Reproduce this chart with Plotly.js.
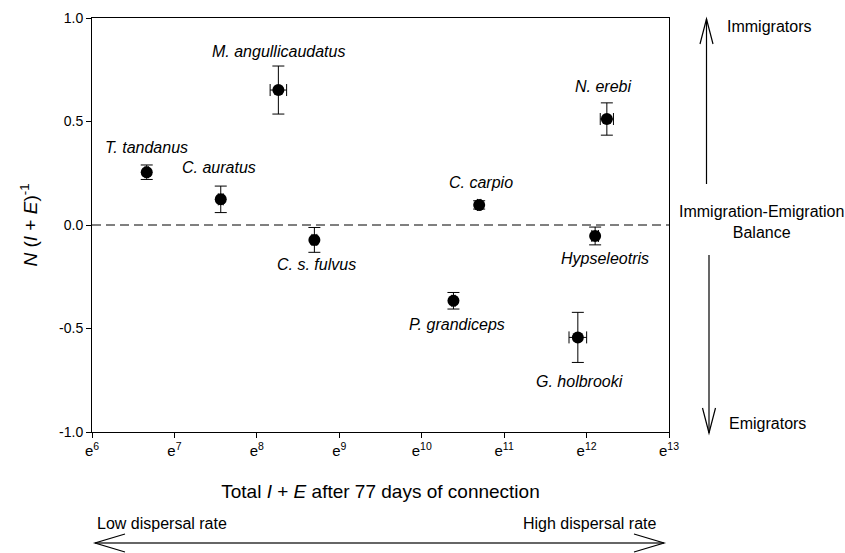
<!DOCTYPE html>
<html>
<head>
<meta charset="utf-8">
<script src="https://cdn.plot.ly/plotly-3.0.1.min.js"></script>
<style>html,body{margin:0;padding:0;background:#fff;}#chart{width:845px;height:553px;}</style>
</head>
<body>
<div id="chart"></div>
<script>
// Data (x is natural log of total I + E)
const species = ["T. tandanus", "C. auratus", "M. angullicaudatus", "C. s. fulvus", "C. carpio", "P. grandiceps", "N. erebi", "Hypseleotris", "G. holbrooki"];
const lnTotal = [6.664, 7.562, 8.261, 8.698, 10.697, 10.385, 12.246, 12.104, 11.894];
const lnTotalErr = [0.02, 0.03, 0.10, 0.03, 0.02, 0.02, 0.08, 0.04, 0.107];
const balance = [0.255, 0.124, 0.652, -0.072, 0.097, -0.366, 0.512, -0.053, -0.543];
const balanceErr = [0.035, 0.064, 0.116, 0.06, 0.02, 0.04, 0.078, 0.043, 0.121];
const tickVals = [6, 7, 8, 9, 10, 11, 12, 13];
const tickText = tickVals.map(v => "e<sup>" + v + "</sup>");

// label offsets in pixels (layout only)
const labelShift = [[0, 25], [-2, 32], [0, 39], [2, -25], [2, 22], [4, -24], [-4, 33], [10, -23], [2, -44]];

const FONT = "Liberation Sans, Arial, sans-serif";

const trace = {
  type: "scatter",
  mode: "markers",
  x: lnTotal,
  y: balance,
  marker: {color: "#000", size: 12},
  error_y: {type: "data", array: balanceErr, visible: true, color: "#000", thickness: 1, width: 6},
  error_x: {type: "data", array: lnTotalErr, visible: true, color: "#000", thickness: 1, width: 6},
  hoverinfo: "skip",
  showlegend: false
};

const annotations = species.map((s, i) => ({
  x: lnTotal[i], y: balance[i], xref: "x", yref: "y",
  text: "<i>" + s + "</i>", showarrow: false,
  xshift: labelShift[i][0], yshift: labelShift[i][1],
  font: {family: FONT, size: 16, color: "#000"}
}));

// paper coordinate helpers (plot area: x 92..669 px, y 18..432 px)
const px = p => (p - 92) / 577;
const py = p => (432 - p) / 414;

const afont = {family: FONT, size: 16, color: "#000"};
annotations.push(
  {xref: "paper", yref: "paper", x: px(725), y: py(27), xanchor: "left", yanchor: "middle", text: "Immigrators", showarrow: false, font: afont},
  {xref: "paper", yref: "paper", x: px(761), y: py(222), xanchor: "center", yanchor: "middle", text: "Immigration-Emigration<br>Balance", showarrow: false, font: afont},
  {xref: "paper", yref: "paper", x: px(727), y: py(423), xanchor: "left", yanchor: "middle", text: "Emigrators", showarrow: false, font: afont},
  {xref: "paper", yref: "paper", x: px(95), y: py(523), xanchor: "left", yanchor: "middle", text: "Low dispersal rate", showarrow: false, font: afont},
  {xref: "paper", yref: "paper", x: px(659), y: py(523), xanchor: "right", yanchor: "middle", text: "High dispersal rate", showarrow: false, font: afont}
);

function pathP(points) {
  return points.map((p, i) => (i ? "L" : "M") + px(p[0]) + "," + py(p[1])).join(" ");
}

const lineStyle = {color: "#000", width: 1.2};
const shapes = [
  {type: "line", xref: "paper", yref: "y", x0: 0, x1: 1, y0: 0, y1: 0, line: {color: "#000", width: 1, dash: "9px,5px"}},
  // up arrow
  {type: "path", xref: "paper", yref: "paper", path: pathP([[706.5, 184], [706.5, 19]]), line: lineStyle},
  {type: "path", xref: "paper", yref: "paper", path: pathP([[700, 44], [706.5, 19], [713, 44]]), line: lineStyle},
  // down arrow
  {type: "path", xref: "paper", yref: "paper", path: pathP([[709, 255], [709, 433]]), line: lineStyle},
  {type: "path", xref: "paper", yref: "paper", path: pathP([[702.5, 408], [709, 433], [715.5, 408]]), line: lineStyle},
  // bottom double arrow
  {type: "path", xref: "paper", yref: "paper", path: pathP([[95, 543], [664, 543]]), line: {color: "#333", width: 1.6}},
  {type: "path", xref: "paper", yref: "paper", path: pathP([[125, 534], [95, 543], [125, 552]]), line: lineStyle},
  {type: "path", xref: "paper", yref: "paper", path: pathP([[634, 534], [664, 543], [634, 552]]), line: lineStyle}
];

const layout = {
  width: 845, height: 553,
  margin: {l: 92, r: 176, t: 18, b: 121},
  paper_bgcolor: "#fff", plot_bgcolor: "#fff",
  font: {family: FONT, size: 14, color: "#000"},
  xaxis: {
    range: [6, 13], tickvals: tickVals, ticktext: tickText,
    showgrid: false, zeroline: false, showline: true, mirror: true,
    linecolor: "#000", linewidth: 1, ticks: "outside", ticklen: 5, tickcolor: "#000",
    tickfont: {family: FONT, size: 15},
    title: {text: "Total <i>I</i> + <i>E</i> after 77 days of connection", font: {family: FONT, size: 19}, standoff: 26}
  },
  yaxis: {
    range: [-1, 1], tickvals: [-1, -0.5, 0, 0.5, 1], ticktext: ["-1.0", "-0.5", "0.0", "0.5", "1.0"],
    showgrid: false, zeroline: false, showline: true, mirror: true,
    linecolor: "#000", linewidth: 1, ticks: "outside", ticklen: 5, tickcolor: "#000",
    tickfont: {family: FONT, size: 14},
    title: {text: "<i>N</i> (<i>I</i> + <i>E</i>)<sup>-1</sup>", font: {family: FONT, size: 19}, standoff: 16}
  },
  annotations: annotations,
  shapes: shapes
};

Plotly.newPlot("chart", [trace], layout, {displayModeBar: false, staticPlot: true});
</script>
</body>
</html>
